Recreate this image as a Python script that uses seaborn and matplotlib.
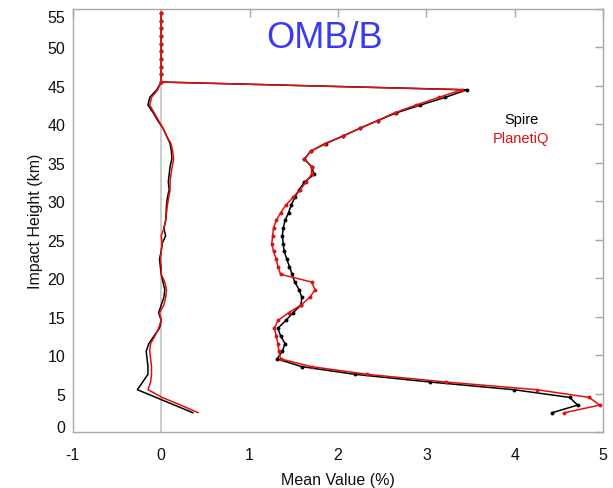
import numpy as np
import pandas as pd
import matplotlib
matplotlib.use("Agg")
import matplotlib.pyplot as plt
import matplotlib.transforms as mtransforms
import seaborn as sns

# impact heights (km)
heights = [2.5 + i for i in range(53)]  # 2.5 .. 54.5

# OMB/B mean (%) from 2.5 to 45.5 km
spire_mean = [0.36, 0.15, -0.06, -0.27, -0.21, -0.15, -0.15, -0.16, -0.17, -0.14,
              -0.08, -0.02, 0.0, -0.03, 0.0, 0.03, 0.04, 0.02, 0.0, -0.01,
              -0.02, 0.0, 0.01, 0.05, 0.03, 0.05, 0.055, 0.06, 0.07, 0.09,
              0.08, 0.09, 0.10, 0.12, 0.115, 0.10, 0.06, 0.02, -0.04, -0.09,
              -0.15, -0.13, -0.05, 0.0]
planetiq_mean = [0.42, 0.22, 0.01, -0.15, -0.12, -0.11, -0.11, -0.12, -0.13, -0.12,
                 -0.07, -0.03, 0.0, -0.02, 0.03, 0.05, 0.06, 0.04, 0.0, 0.0,
                 -0.01, 0.0, 0.01, 0.0, 0.03, 0.05, 0.06, 0.07, 0.085, 0.10,
                 0.10, 0.11, 0.125, 0.14, 0.13, 0.11, 0.06, 0.02, -0.03, -0.08,
                 -0.13, -0.11, -0.04, 0.0]

# OMB/B standard deviation (%) from 2.5 to 54.5 km
spire_std = [4.42, 4.71, 4.62, 3.99, 3.04, 2.19, 1.59, 1.31, 1.37, 1.40,
             1.35, 1.32, 1.41, 1.49, 1.58, 1.59, 1.56, 1.51, 1.48, 1.45,
             1.42, 1.39, 1.38, 1.37, 1.38, 1.40, 1.44, 1.47, 1.51, 1.56,
             1.62, 1.73, 1.70, 1.62, 1.69, 1.86, 2.06, 2.25, 2.45, 2.66,
             2.93, 3.21, 3.46, 0, 0, 0, 0, 0, 0, 0, 0, 0, 0]
planetiq_std = [4.56, 4.96, 4.84, 4.25, 3.22, 2.33, 1.70, 1.35, 1.33, 1.32,
                1.30, 1.28, 1.32, 1.44, 1.58, 1.68, 1.74, 1.70, 1.35, 1.32,
                1.30, 1.27, 1.25, 1.26, 1.27, 1.30, 1.35, 1.41, 1.49, 1.57,
                1.64, 1.70, 1.70, 1.62, 1.69, 1.85, 2.06, 2.25, 2.45, 2.64,
                2.88, 3.14, 3.40, 0, 0, 0, 0, 0, 0, 0, 0, 0, 0]

x_ticks = [-1, 0, 1, 2, 3, 4, 5]
y_ticks = list(range(0, 56, 5))

sns.set_theme(style="white")
plt.rcParams['font.family'] = ['Liberation Sans', 'DejaVu Sans']

fig = plt.figure(figsize=(6.13, 4.89), dpi=100)
ax = fig.add_axes([0.1188, 0.1145, 0.8653, 0.8651])

ax.axvline(0, color="#c8c8c8", lw=1.3, zorder=0)

n_mean = len(spire_mean)
df_sm = pd.DataFrame({"x": spire_mean, "y": heights[:n_mean]})
df_pm = pd.DataFrame({"x": planetiq_mean, "y": heights[:n_mean]})
df_ss = pd.DataFrame({"x": spire_std, "y": heights})
df_ps = pd.DataFrame({"x": planetiq_std, "y": heights})

sns.lineplot(data=df_sm, x="x", y="y", sort=False, estimator=None, color="black", lw=1.1, ax=ax)
sns.lineplot(data=df_ss, x="x", y="y", sort=False, estimator=None, color="black", lw=1.1,
             marker="o", markersize=2.8, markeredgewidth=0, ax=ax)
sns.lineplot(data=df_pm, x="x", y="y", sort=False, estimator=None, color="#e01010", lw=1.1, ax=ax)
sns.lineplot(data=df_ps, x="x", y="y", sort=False, estimator=None, color="#e01010", lw=1.1,
             marker="o", markersize=2.8, markeredgewidth=0, ax=ax)

ax.set_xlim(-1, 5)
ax.set_ylim(0, 55)
ax.set_xticks(x_ticks)
ax.set_xticklabels([str(v) for v in x_ticks])
ax.set_yticks(y_ticks)
ax.set_yticklabels([str(v) for v in y_ticks])

for s in ax.spines.values():
    s.set_color("#a8a8a8")
    s.set_linewidth(1.0)

ax.tick_params(axis="both", direction="in", length=6, width=1.0, color="#a8a8a8",
               labelsize=11.5, labelcolor="#111111", top=True, right=True)
ax.tick_params(axis="x", pad=11)
ax.tick_params(axis="y", pad=5.5)

# nudge the end labels of the y axis inward, as in the reference
ylabels = ax.get_yticklabels()
ylabels[0].set_transform(ylabels[0].get_transform() +
                         mtransforms.ScaledTranslation(0, 6 / 100, fig.dpi_scale_trans))
ylabels[-1].set_transform(ylabels[-1].get_transform() +
                          mtransforms.ScaledTranslation(0, -7 / 100, fig.dpi_scale_trans))

ax.set_xlabel("Mean Value (%)", fontsize=11.5, color="#111111", labelpad=7)
ax.set_ylabel("Impact Height (km)", fontsize=11.5, color="#111111", labelpad=3)

ax.text(1.85, 51.3, "OMB/B", color="#3a3af0", fontsize=26, ha="center", va="center")
ax.text(4.07, 40.7, "Spire", color="black", fontsize=10.5, ha="center", va="center")
ax.text(4.07, 38.2, "PlanetiQ", color="#e01010", fontsize=10.5, ha="center", va="center")

ax.grid(False)
fig.savefig("out.png", dpi=100)
